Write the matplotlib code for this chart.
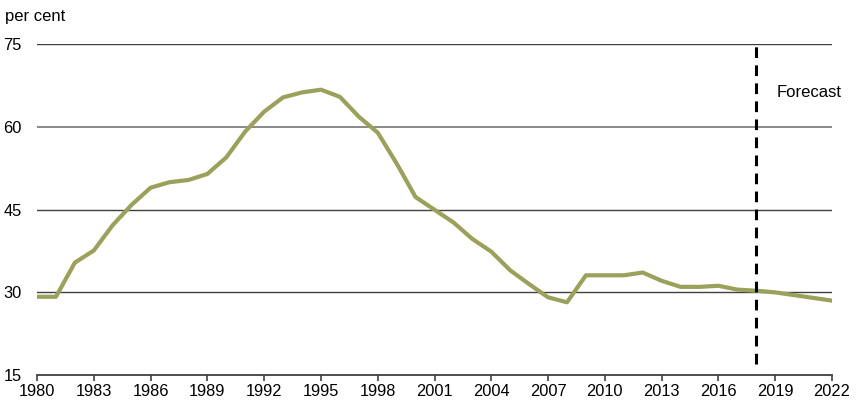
import matplotlib
matplotlib.use("Agg")
import matplotlib.pyplot as plt

plt.rcParams['font.family'] = ['Liberation Sans', 'DejaVu Sans']

years = list(range(1980, 2023))
values = [29.2, 29.2, 35.4, 37.6, 42.2, 45.9, 49.0, 50.0, 50.4, 51.5,
          54.5, 59.2, 62.8, 65.4, 66.3, 66.8, 65.5, 61.9, 59.0, 53.4,
          47.3, 45.0, 42.7, 39.7, 37.4, 34.0, 31.5, 29.1, 28.2, 33.1,
          33.1, 33.1, 33.6, 32.1, 31.0, 31.0, 31.2, 30.5, 30.3, 30.0,
          29.5, 29.0, 28.5]
yticks = [15, 30, 45, 60, 75]
xticks = list(range(1980, 2023, 3))
forecast_year = 2018

fig = plt.figure(figsize=(8.67, 4.18), dpi=100)
ax = fig.add_axes([37/867, 43/418, 795/867, 330.5/418])

for y in yticks[1:]:
    col = '#808080' if y == 60 else '#404040'
    ax.axhline(y, color=col, lw=1.3 if y == 60 else 1.0, zorder=1)

ax.plot(years, values, color='#9ba15b', lw=3.0, solid_joinstyle='round', zorder=3)
ax.plot([forecast_year, forecast_year], [17.0, 75], color='black', lw=2.2,
        dashes=(3.5, 2.4), zorder=4)
ax.text(2019.1, 66.3, 'Forecast', fontsize=12, va='center', ha='left')

ax.set_xlim(1980, 2022)
ax.set_ylim(15, 75)
ax.set_xticks(xticks)
ax.set_yticks(yticks)
ax.tick_params(axis='x', length=4.5, width=1.2, color='#404040', labelsize=11.8, pad=2)
ax.tick_params(axis='y', length=0, labelsize=11.8, pad=11)
for s in ['top', 'right', 'left']:
    ax.spines[s].set_visible(False)
ax.spines['bottom'].set_color('#404040')
ax.spines['bottom'].set_linewidth(1.3)

fig.text(5/867, 1 - 17/418, 'per cent', fontsize=12, va='center', ha='left')

fig.savefig('out.png', dpi=100)
